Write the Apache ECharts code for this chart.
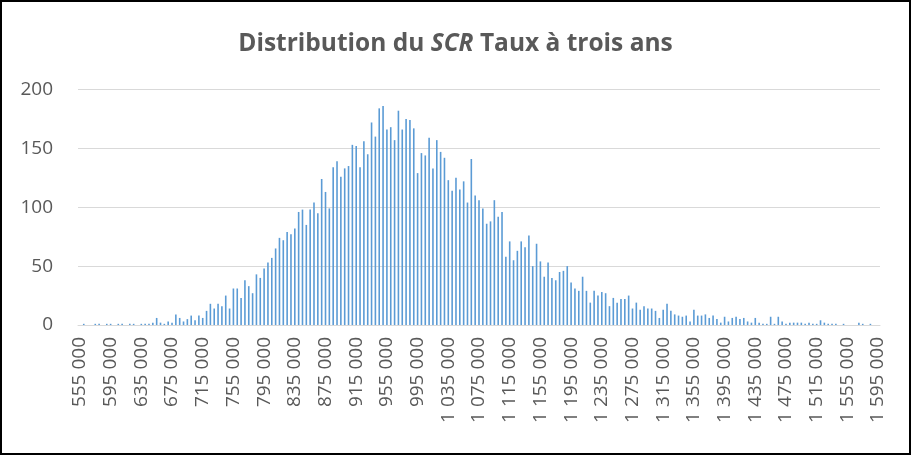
<!DOCTYPE html>
<html>
<head>
<meta charset="utf-8">
<script src="https://cdn.jsdelivr.net/npm/echarts@6/dist/echarts.min.js"></script>
<style>
  html, body { margin: 0; padding: 0; background: #fff; }
  #chart { width: 911px; height: 455px; }
</style>
</head>
<body>
<div id="chart"></div>
<script>
// bins: 555 000 to 1 595 000, step 5 000
var binStart = 555000;
var binStep = 5000;
var binCount = 209;

var counts = [
  0, 1, 0, 0, 1, 1, 0, 1, 1, 0, 1, 1, 0, 1, 1, 0, 1, 1, 1, 2,
  6, 2, 1, 3, 2, 9, 6, 3, 5, 8, 4, 8, 6, 12, 18, 14, 18, 16, 25, 14,
  31, 31, 23, 38, 33, 27, 43, 40, 48, 53, 57, 65, 74, 72, 79, 77, 82, 96, 98, 85,
  98, 104, 95, 124, 113, 99, 134, 139, 126, 133, 135, 153, 152, 134, 156, 145, 172, 160, 184, 186,
  166, 168, 157, 182, 166, 175, 174, 167, 129, 146, 144, 159, 133, 157, 147, 142, 123, 114, 125, 115,
  122, 104, 141, 110, 106, 99, 86, 88, 106, 92, 96, 58, 71, 55, 63, 71, 66, 76, 50, 69,
  54, 41, 53, 40, 38, 45, 46, 50, 36, 31, 29, 41, 29, 19, 29, 25, 28, 27, 16, 23,
  19, 22, 22, 25, 14, 19, 13, 16, 14, 14, 12, 6, 13, 18, 12, 9, 8, 7, 8, 3,
  13, 8, 8, 9, 6, 8, 5, 2, 7, 3, 6, 7, 5, 6, 3, 2, 6, 2, 1, 1,
  7, 1, 7, 3, 1, 2, 2, 2, 2, 1, 2, 1, 1, 4, 2, 1, 1, 1, 0, 1,
  0, 0, 0, 2, 1, 0, 1, 0, 0
];

var yTicks = [0, 50, 100, 150, 200];

var categories = [];
for (var i = 0; i < binCount; i++) categories.push(binStart + i * binStep);

function fmt(v) {
  return String(v).replace(/\B(?=(\d{3})+(?!\d))/g, ' ');
}

var text = '#595959';
var rule = '#d9d9d9';
var font = '"Open Sans", "Noto Sans", sans-serif';

var chart = echarts.init(document.getElementById('chart'), null, { renderer: 'canvas' });
chart.setOption({
  animation: false,
  title: {
    left: 'center',
    top: 27,
    text: '{b|Distribution du }{i|SCR}{b| Taux à trois ans}',
    textStyle: {
      rich: {
        b: { fontFamily: font, fontSize: 24.5, fontWeight: 'bold', color: text },
        i: { fontFamily: font, fontSize: 24.5, fontWeight: 'bold', fontStyle: 'italic', color: text }
      }
    }
  },
  graphic: [{
    type: 'rect',
    shape: { x: 1, y: 1, width: 909, height: 453 },
    style: { fill: 'none', stroke: '#000', lineWidth: 2 },
    silent: true
  }],
  grid: { left: 78, right: 31, top: 89.5, bottom: 130 },
  xAxis: {
    type: 'category',
    data: categories,
    axisLine: { lineStyle: { color: rule, width: 1 } },
    axisTick: { show: false },
    axisLabel: {
      interval: 7,
      rotate: 90,
      margin: 12,
      color: text,
      fontFamily: font,
      fontSize: 19,
      formatter: function (v) { return fmt(v); }
    }
  },
  yAxis: {
    type: 'value',
    min: yTicks[0],
    max: yTicks[yTicks.length - 1],
    interval: 50,
    axisLine: { show: false },
    axisTick: { show: false },
    axisLabel: { color: text, fontFamily: font, fontSize: 19, margin: 25 },
    splitLine: { lineStyle: { color: rule, width: 1 } }
  },
  series: [{
    type: 'bar',
    data: counts,
    barWidth: 1.6,
    itemStyle: { color: '#5b9bd5' }
  }]
});
</script>
</body>
</html>
